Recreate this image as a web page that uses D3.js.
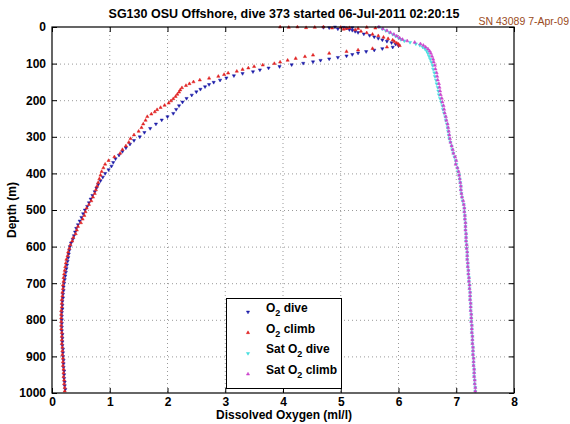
<!DOCTYPE html>
<html><head><meta charset="utf-8">
<script src="https://cdn.jsdelivr.net/npm/d3@7"></script>
<style>body{margin:0;background:#fff}svg{display:block}text{font-family:"Liberation Sans",Arial,sans-serif}</style>
</head><body><svg id="c" width="570" height="424"></svg>
<script>
const titleText = "SG130 OSU Offshore, dive 373 started 06-Jul-2011 02:20:15";
const snText = "SN 43089 7-Apr-09";
const xLabel = "Dissolved Oxygen (ml/l)";
const yLabel = "Depth (m)";
const xTicks = [0,1,2,3,4,5,6,7,8];
const yTicks = [0,100,200,300,400,500,600,700,800,900,1000];

// [depth (m), O2 (ml/l)]
const o2Dive = [[0,4.9],[1,5.05],[2,4.8],[3,5.1],[1,4.7],[2,5.2],[5,4.95],[7,5.15],[9,5.2],[12,5.25],[15,5.3],[19,5.4],[23,5.5],[27,5.58],[31,5.65],[35,5.72],[39,5.8],[43,5.88],[47,5.95],[51,6.0],[55,5.9],[59,5.72],[63,5.58],[67,5.44],[71,5.3],[75,5.2],[79,5.1],[83,4.95],[87,4.8],[91,4.65],[95,4.52],[99,4.35],[103,4.15],[108,3.94],[112,3.75],[117,3.6],[122,3.48],[127,3.3],[133,3.15],[139,3.02],[145,2.91],[151,2.8],[157,2.72],[163,2.65],[170,2.57],[177,2.5],[186,2.42],[195,2.33],[205,2.26],[215,2.2],[225,2.15],[236,2.1],[245,2.0],[254,1.9],[265,1.8],[277,1.7],[288,1.6],[300,1.52],[310,1.42],[320,1.35],[330,1.28],[340,1.22],[350,1.16],[360,1.1],[370,1.06],[380,1.03],[390,0.98],[400,0.92],[410,0.88],[420,0.84],[430,0.8],[440,0.77],[450,0.74],[460,0.7],[470,0.67],[480,0.64],[490,0.61],[500,0.57],[510,0.54],[520,0.51],[530,0.48],[540,0.45],[550,0.42],[560,0.4],[570,0.38],[580,0.36],[590,0.33],[600,0.31],[610,0.3],[620,0.29],[630,0.28],[640,0.27],[650,0.26],[660,0.25],[670,0.24],[680,0.23],[690,0.22],[700,0.21],[710,0.2],[720,0.2],[730,0.19],[740,0.19],[750,0.18],[760,0.18],[770,0.18],[780,0.17],[790,0.17],[800,0.17],[810,0.17],[820,0.17],[830,0.17],[840,0.18],[850,0.18],[860,0.18],[870,0.18],[880,0.19],[890,0.19],[900,0.19],[910,0.2],[920,0.2],[930,0.2],[940,0.21],[950,0.21],[960,0.21],[970,0.22],[980,0.22],[990,0.23]];

const o2Climb = [[995,0.22],[985,0.22],[975,0.21],[965,0.21],[955,0.2],[945,0.2],[935,0.2],[925,0.19],[915,0.19],[905,0.19],[895,0.18],[885,0.18],[875,0.18],[865,0.17],[855,0.17],[845,0.17],[835,0.17],[825,0.16],[815,0.16],[805,0.16],[795,0.16],[785,0.16],[775,0.16],[765,0.17],[755,0.17],[745,0.17],[735,0.18],[725,0.18],[715,0.19],[705,0.19],[695,0.2],[685,0.2],[675,0.21],[665,0.22],[655,0.23],[645,0.24],[635,0.25],[625,0.27],[615,0.28],[605,0.3],[595,0.32],[585,0.35],[575,0.37],[565,0.41],[555,0.43],[545,0.45],[535,0.5],[525,0.53],[515,0.56],[505,0.58],[495,0.6],[485,0.64],[475,0.68],[465,0.71],[455,0.74],[445,0.76],[435,0.78],[425,0.8],[415,0.82],[405,0.84],[395,0.86],[385,0.89],[375,0.92],[365,0.98],[355,1.08],[345,1.18],[335,1.22],[325,1.28],[315,1.33],[305,1.36],[295,1.42],[285,1.5],[275,1.55],[265,1.58],[255,1.62],[245,1.65],[238,1.72],[232,1.78],[226,1.82],[220,1.88],[214,1.95],[208,2.02],[202,2.06],[196,2.1],[190,2.14],[184,2.17],[178,2.2],[172,2.22],[166,2.25],[160,2.32],[155,2.38],[150,2.45],[145,2.56],[140,2.72],[135,2.88],[130,2.98],[126,3.05],[121,3.2],[116,3.3],[112,3.4],[108,3.5],[104,3.65],[100,3.85],[96,3.95],[91,4.08],[86,4.22],[81,4.38],[77,4.52],[72,4.8],[67,5.1],[63,5.3],[59,5.55],[55,5.8],[51,6.02],[47,6.0],[44,5.97],[40,5.93],[36,5.9],[32,5.82],[28,5.74],[24,5.65],[20,5.55],[16,5.45],[12,5.35],[8,5.25],[6,5.05],[4,5.1],[4,5.3],[3,5.6],[1,5.45],[2,5.15],[1,5.0],[3,4.85],[0,4.7],[1,4.55],[2,4.4],[0,4.25],[1,4.1],[0,3.95]];

const satDepth = [0,5,10,15,20,25,30,34,38,42,46,50,55,60,66,72,80,88,96,105,115,125,135,145,155,165,175,185,195,205,215,225,235,245,255,265,275,285,295,305,315,325,335,345,355,365,375,385,395,405,415,425,435,445,455,465,475,485,495,505,515,525,535,545,555,565,575,585,595,605,615,625,635,645,655,665,675,685,695,705,715,725,735,745,755,765,775,785,795,805,815,825,835,845,855,865,875,885,895,905,915,925,935,945,955,965,975,985,995];
const satDive = [5.66,5.72,5.78,5.84,5.9,5.95,6.0,6.04,6.1,6.2,6.3,6.37,6.42,6.46,6.49,6.51,6.53,6.55,6.57,6.59,6.6,6.62,6.63,6.65,6.66,6.68,6.69,6.7,6.72,6.74,6.76,6.77,6.79,6.81,6.82,6.84,6.85,6.86,6.87,6.88,6.9,6.92,6.93,6.95,6.97,6.99,7.0,7.02,7.03,7.05,7.06,7.07,7.08,7.08,7.09,7.1,7.11,7.13,7.14,7.14,7.15,7.15,7.16,7.16,7.16,7.17,7.17,7.17,7.18,7.18,7.19,7.19,7.19,7.2,7.2,7.21,7.21,7.22,7.22,7.23,7.23,7.24,7.24,7.24,7.25,7.25,7.25,7.26,7.26,7.26,7.27,7.27,7.27,7.28,7.28,7.28,7.29,7.29,7.29,7.3,7.3,7.3,7.31,7.31,7.31,7.32,7.32,7.33,7.33];
const satClimb = [5.66,5.73,5.8,5.86,5.92,5.97,6.02,6.07,6.15,6.28,6.38,6.43,6.47,6.51,6.54,6.56,6.58,6.6,6.61,6.63,6.64,6.66,6.67,6.68,6.7,6.71,6.72,6.73,6.75,6.76,6.78,6.79,6.8,6.82,6.83,6.85,6.86,6.87,6.88,6.89,6.9,6.92,6.94,6.95,6.98,7.0,6.99,7.02,7.04,7.05,7.06,7.07,7.08,7.08,7.09,7.1,7.12,7.13,7.14,7.14,7.15,7.15,7.16,7.16,7.16,7.17,7.17,7.17,7.18,7.18,7.19,7.19,7.19,7.2,7.2,7.21,7.21,7.22,7.22,7.23,7.23,7.24,7.24,7.24,7.25,7.25,7.25,7.26,7.26,7.26,7.27,7.27,7.27,7.28,7.28,7.28,7.29,7.29,7.29,7.3,7.3,7.3,7.31,7.31,7.31,7.32,7.32,7.33,7.33];

const seriesNames = ["O|2| dive","O|2| climb","Sat O|2| dive","Sat O|2| climb"];
const seriesColors = ["#1c1ca8","#e02222","#44dede","#cc44cc"];

const svg = d3.select("#c");
const L=52,R=514,T=27,B=393;
const x = d3.scaleLinear().domain([0,8]).range([L,R]);
const y = d3.scaleLinear().domain([0,1000]).range([T,B]);
const font = "bold 12px 'Liberation Sans', Arial, sans-serif";

svg.append("rect").attr("width",570).attr("height",424).attr("fill","#fff");

// grid
const g = svg.append("g");
g.selectAll("line.gx").data(xTicks.slice(1,-1)).join("line")
  .attr("x1",d=>x(d)).attr("x2",d=>x(d)).attr("y1",T).attr("y2",B)
  .attr("stroke","#999").attr("stroke-width",1).attr("stroke-dasharray","1,3");
g.selectAll("line.gy").data(yTicks.slice(1,-1)).join("line")
  .attr("y1",d=>y(d)+0.5).attr("y2",d=>y(d)+0.5).attr("x1",L).attr("x2",R)
  .attr("stroke","#999").attr("stroke-width",1).attr("stroke-dasharray","1,3");

// data
const tri = d3.symbol(d3.symbolTriangle, 4.5);
function plot(data, color, down){
  svg.append("g").selectAll("path").data(data).join("path")
    .attr("d", tri())
    .attr("transform", d=>`translate(${x(d[1])},${y(d[0])})${down?" rotate(180)":""}`)
    .attr("fill", color).attr("stroke", color).attr("stroke-width",0.5);
}
plot(o2Dive, seriesColors[0], true);
plot(o2Climb, seriesColors[1], false);
plot(satDepth.map((d,i)=>[d,satDive[i]]), seriesColors[2], true);
plot(satDepth.map((d,i)=>[d,satClimb[i]]), seriesColors[3], false);

// axes
const ax = svg.append("g").attr("transform",`translate(0,${B})`)
  .call(d3.axisBottom(x).tickValues(xTicks).tickSizeInner(-5).tickSizeOuter(0).tickPadding(4).tickFormat(d3.format("d")));
const ay = svg.append("g").attr("transform",`translate(${L},0)`)
  .call(d3.axisLeft(y).tickValues(yTicks).tickSizeInner(-5).tickSizeOuter(0).tickPadding(6).tickFormat(d3.format("d")));
const axT = svg.append("g").attr("transform",`translate(0,${T})`)
  .call(d3.axisTop(x).tickValues(xTicks).tickSizeInner(-5).tickSizeOuter(0).tickFormat(""));
const ayR = svg.append("g").attr("transform",`translate(${R},0)`)
  .call(d3.axisRight(y).tickValues(yTicks).tickSizeInner(-5).tickSizeOuter(0).tickFormat(""));
[ax,ay,axT,ayR].forEach(a=>{
  a.select(".domain").remove();
  a.selectAll("line").attr("stroke","#000");
  a.selectAll("text").style("font",font).attr("fill","#000");
});
svg.append("rect").attr("x",L).attr("y",T).attr("width",R-L).attr("height",B-T)
  .attr("fill","none").attr("stroke","#000").attr("stroke-width",1.2);

// labels
svg.append("text").attr("x",284).attr("y",18).attr("text-anchor","middle")
  .style("font","bold 12.5px 'Liberation Sans', Arial, sans-serif").text(titleText);
svg.append("text").attr("x",569).attr("y",25).attr("text-anchor","end")
  .style("font","10.5px 'Liberation Sans', Arial, sans-serif").attr("fill","#9a4a1c").text(snText);
svg.append("text").attr("x",284).attr("y",419).attr("text-anchor","middle")
  .style("font",font).text(xLabel);
svg.append("text").attr("transform","translate(16,210) rotate(-90)").attr("text-anchor","middle")
  .style("font",font).text(yLabel);

// legend
const lg = svg.append("g");
lg.append("rect").attr("x",226.5).attr("y",298.5).attr("width",115).attr("height",90)
  .attr("fill","#fff").attr("stroke","#000").attr("stroke-width",1);
seriesNames.forEach((nm,i)=>{
  const yy = 312 + i*20.7;
  lg.append("path").attr("d",tri()).attr("transform",`translate(248,${yy})${(i%2===0)?" rotate(180)":""}`)
    .attr("fill",seriesColors[i]).attr("stroke",seriesColors[i]).attr("stroke-width",0.5);
  const t = lg.append("text").attr("x",266).attr("y",yy).style("font",font);
  nm.split("|").forEach((part,k)=>{
    if(k===1) t.append("tspan").attr("dy",4).style("font","bold 9px 'Liberation Sans', Arial, sans-serif").text(part);
    else if(k===2) t.append("tspan").attr("dy",-4).text(part);
    else t.append("tspan").text(part);
  });
});
</script></body></html>
